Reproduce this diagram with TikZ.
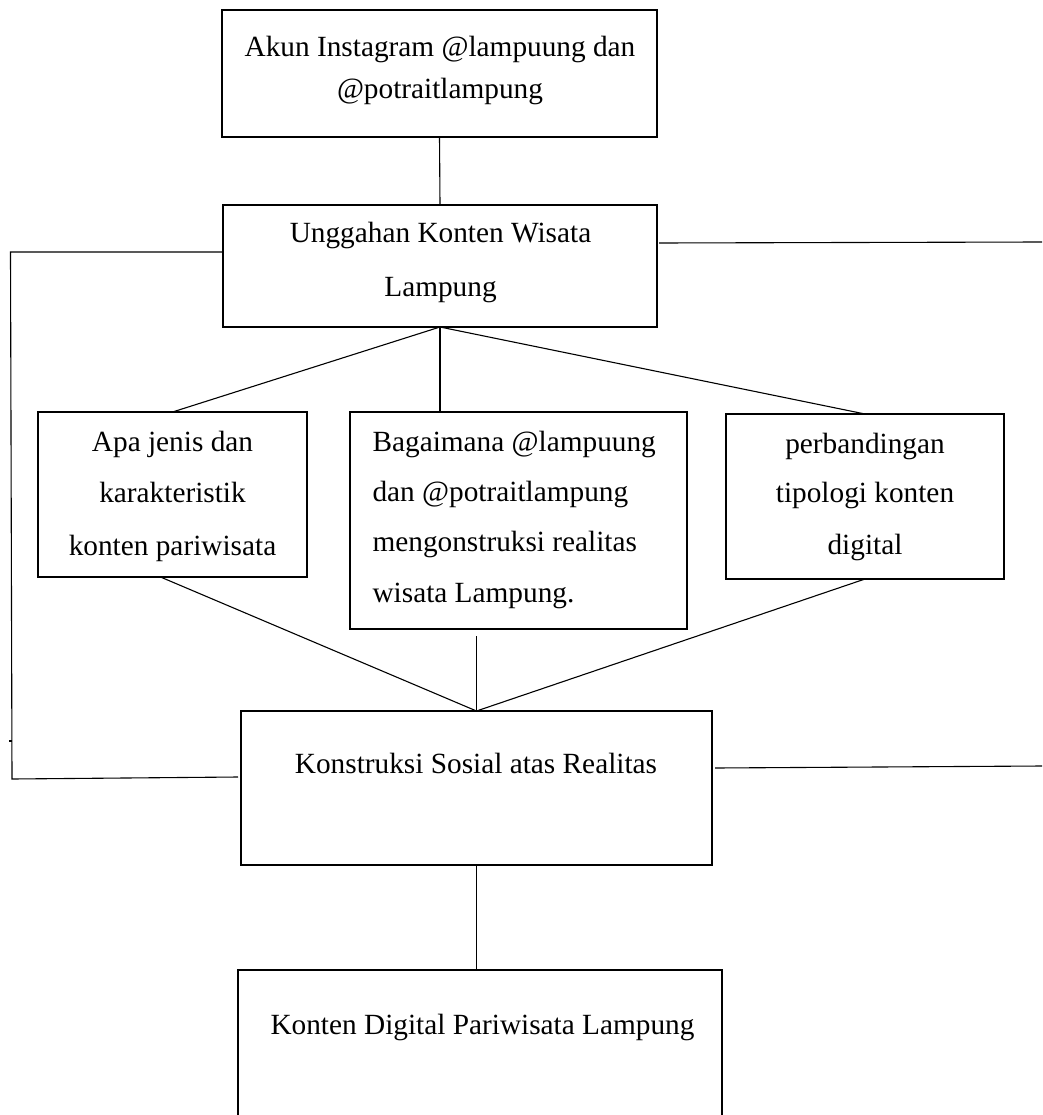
\documentclass[tikz,border=0pt]{standalone}
\usepackage{fontspec}
\setmainfont{Liberation Serif}
\usetikzlibrary{calc}
\begin{document}
\begin{tikzpicture}[x=1pt,y=-1pt,line width=1.1pt,
  box/.style={draw,rectangle,inner sep=0pt,outer sep=0pt},
  txt/.style={font=\fontsize{29.3}{35}\selectfont,inner sep=0pt,anchor=base},
  txtl/.style={txt,anchor=base west}]
\clip (0,0) rectangle (1042,1115);
\fill[white] (0,0) rectangle (1042,1115);
% boxes
\node[box,minimum width=435pt,minimum height=127pt] (b1) at (439.5,73.5) {};
\node[box,minimum width=434pt,minimum height=122pt] (b2) at (440,266) {};
\node[box,minimum width=269pt,minimum height=165pt] (b3) at (172.5,494.5) {};
\node[box,minimum width=337pt,minimum height=217pt] (b4) at (518.5,520.5) {};
\node[box,minimum width=278pt,minimum height=165pt] (b5) at (865,496.5) {};
\node[box,minimum width=471pt,minimum height=154pt] (b6) at (476.5,788) {};
\node[box,minimum width=484pt,minimum height=180pt] (b7) at (480,1060) {};
% texts
\node[txt] (t1a) at (440,57) {Akun Instagram @lampuung dan};
\node[txt] (t1b) at (440,99) {@potraitlampung};
\node[txt] (t2a) at (440.5,243) {Unggahan Konten Wisata};
\node[txt] (t2b) at (440.5,296) {Lampung};
\node[txt] (t3a) at (172.5,451) {Apa jenis dan};
\node[txt] (t3b) at (172.5,502) {karakteristik};
\node[txt] (t3c) at (172.5,555) {konten pariwisata};
\node[txtl] (t4a) at (372,451) {Bagaimana @lampuung};
\node[txtl] (t4b) at (372,501) {dan @potraitlampung};
\node[txtl] (t4c) at (372,551) {mengonstruksi realitas};
\node[txtl] (t4d) at (372,602) {wisata Lampung.};
\node[txt] (t5a) at (865,453) {perbandingan};
\node[txt] (t5b) at (865,502) {tipologi konten};
\node[txt] (t5c) at (865,554) {digital};
\node[txt] (t6) at (476,773.5) {Konstruksi Sosial atas Realitas};
\node[txt] (t7) at (482.5,1034.5) {Konten Digital Pariwisata Lampung};
% free ends
\coordinate (L1) at (10.5,252);
\coordinate (L2) at (12,779);
\coordinate (R1) at (1042,242);
\coordinate (R2) at (1042,766);
\coordinate (K1) at (9,741);
\coordinate (K2) at (12,741);
% connectors
\draw (b1.south) -- (b2.north);
\draw ($(b2.west)+(0,-14)$) -- (L1) -- (L2) -- ($(b6.west)+(-3,-11)$);
\draw (K1) -- (K2);
\draw ($(b2.east)+(2,-23)$) -- (R1);
\draw ($(b6.east)+(3,-20)$) -- (R2);
\draw (b2.south) -- (b3.north);
\draw (b2.south) -- (b2.south |- b4.north);
\draw (b2.south) -- (b5.north);
\draw ([xshift=-12pt]b3.south) -- (b6.north);
\draw ($(b4.south -| b6.north)+(0,7)$) -- (b6.north);
\draw (b5.south) -- (b6.north);
\draw (b6.south) -- (b6.south |- b7.north);
\end{tikzpicture}
\end{document}
